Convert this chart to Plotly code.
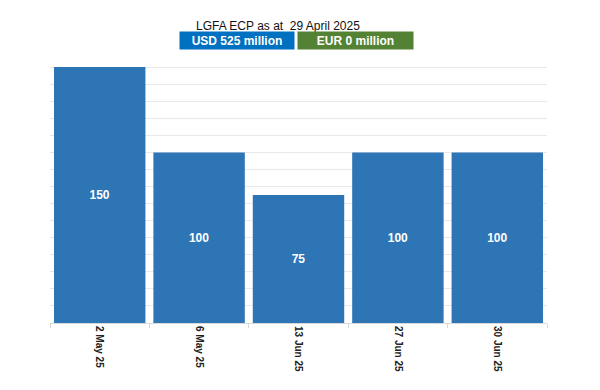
import plotly.graph_objects as go

categories = ["2 May 25", "6 May 25", "13 Jun 25", "27 Jun 25", "30 Jun 25"]
values = [150, 100, 75, 100, 100]
title_text = "LGFA ECP as at  29 April 2025"
usd_label = "USD 525 million"
eur_label = "EUR 0 million"

OFF = 8  # page body margin
L, R, T, B = 50 - OFF, 53, 50 - OFF, 67
W, H = 600 - OFF, 390 - OFF
pw, ph = W - L - R, H - T - B

def px_x(p):
    return (p - OFF - L) / pw

def px_y(p):
    return (H - B - (p - OFF)) / ph

fig = go.Figure(go.Bar(
    x=categories, y=values,
    marker=dict(color="#2E75B6", line=dict(width=0)),
    text=[str(v) for v in values], textposition="inside",
    insidetextanchor="middle",
    textfont=dict(color="white", size=12, family="Arial, Liberation Sans", weight="bold"),
    width=0.92, cliponaxis=False,
))

fig.update_layout(
    width=W, height=H, margin=dict(l=L, r=R, t=T, b=B),
    paper_bgcolor="white", plot_bgcolor="white",
    showlegend=False, font=dict(family="Arial, Liberation Sans", color="#222"),
    xaxis=dict(tickangle=90, tickfont=dict(size=10, family="Arial, Liberation Sans", color="#222", weight="bold"),
               showline=True, linecolor="#d9d9d9", linewidth=1,
               ticks="outside", ticklen=4, tickcolor="#d9d9d9", tickson="boundaries",
               showgrid=False),
    yaxis=dict(range=[0, 160], dtick=10, showticklabels=False, showgrid=True,
               gridcolor="#e8e8e8", gridwidth=1, zeroline=False),
    annotations=[
        dict(text=title_text, x=px_x(278), y=px_y(25.5), xref="paper", yref="paper",
             xanchor="center", yanchor="middle",
             showarrow=False, font=dict(size=12, color="#111", family="Arial, Liberation Sans")),
        dict(text="<b>" + usd_label + "</b>", x=px_x(237), y=px_y(40.5), xref="paper", yref="paper",
             xanchor="center", yanchor="middle",
             showarrow=False, bgcolor="#0070C0", width=110, height=13, borderpad=2,
             font=dict(size=12, color="white", family="Arial, Liberation Sans")),
        dict(text="<b>" + eur_label + "</b>", x=px_x(355.5), y=px_y(40.5), xref="paper", yref="paper",
             xanchor="center", yanchor="middle",
             showarrow=False, bgcolor="#548235", width=111, height=13, borderpad=2,
             font=dict(size=12, color="white", family="Arial, Liberation Sans")),
    ],
)

fig.write_html("out.html")
